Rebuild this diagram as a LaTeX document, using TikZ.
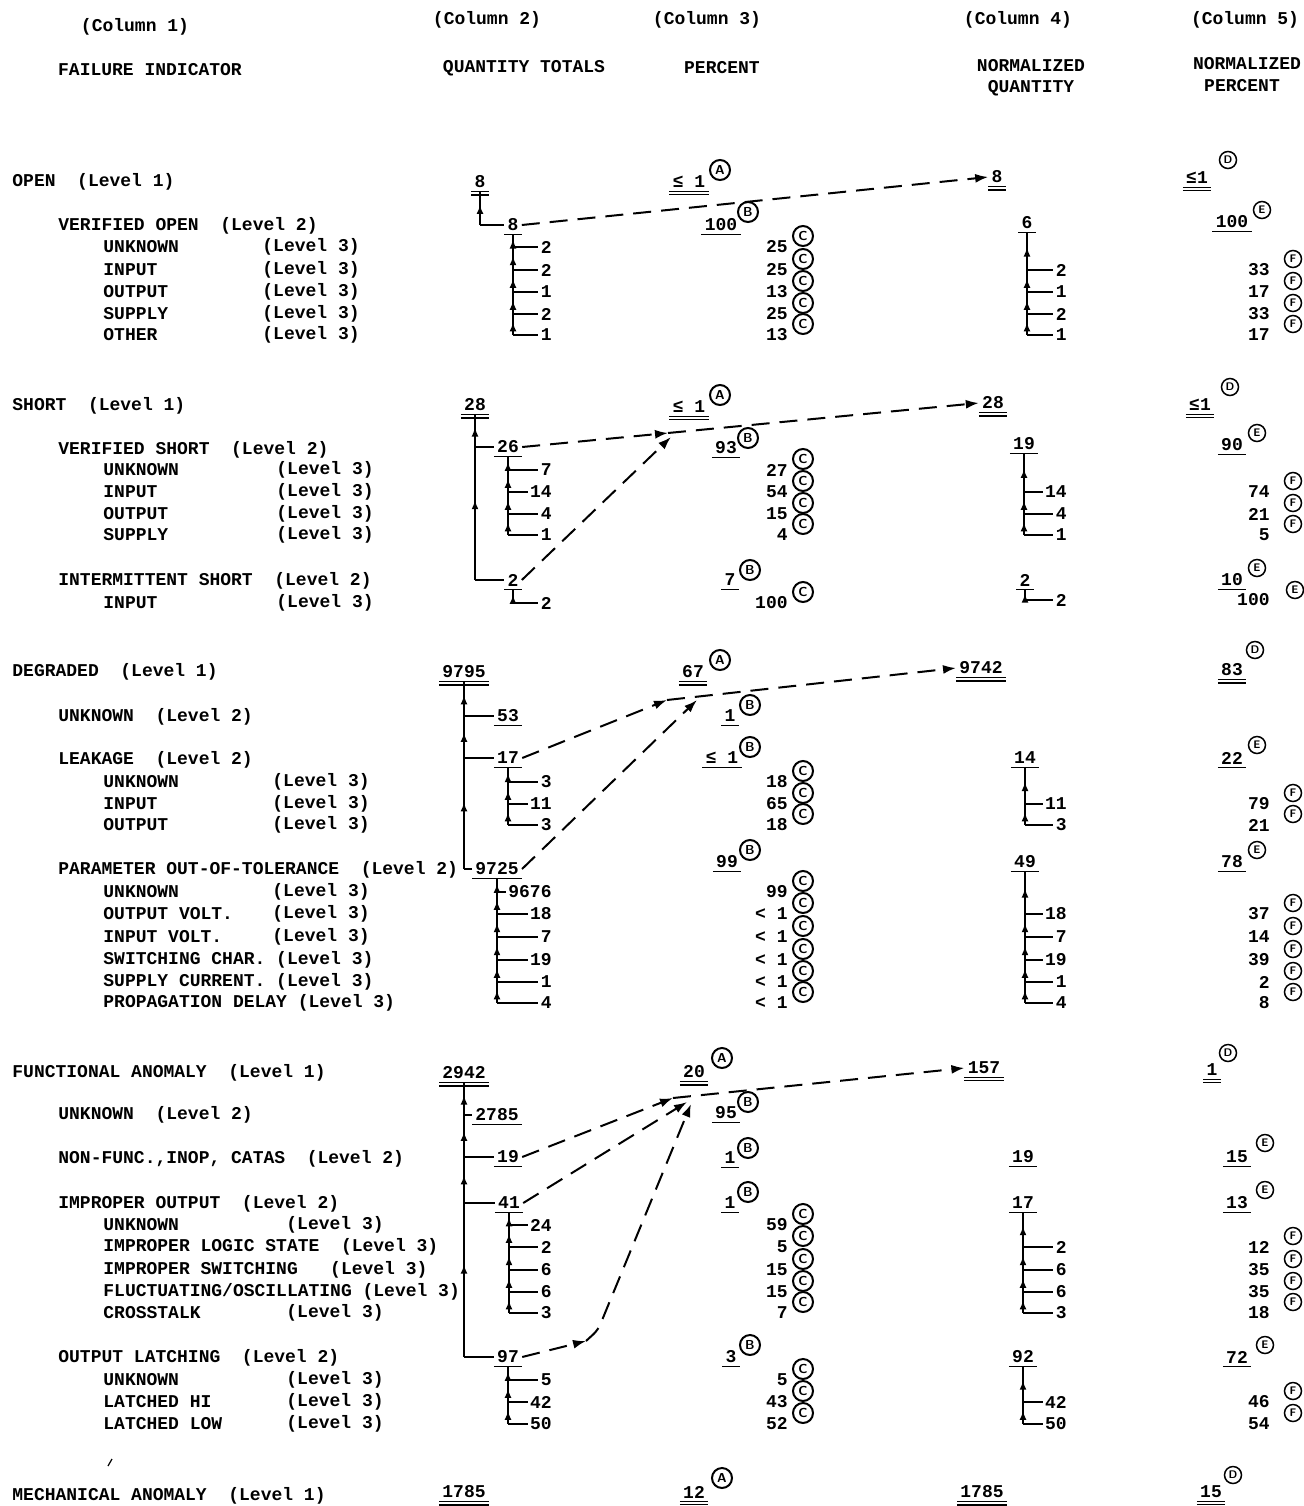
\documentclass[tikz,border=0pt]{standalone}
\usepackage{fontspec}
\newfontfamily\tw{Liberation Mono}
\usetikzlibrary{arrows.meta,decorations.markings}
\tikzset{
 txt/.style={font=\tw\bfseries\fontsize{9}{10}\selectfont,inner sep=0pt,anchor=west},
 hd/.style={font=\tw\bfseries\fontsize{9}{10}\selectfont,inner sep=0pt},
 num/.style={font=\tw\bfseries\fontsize{9}{10}\selectfont,inner xsep=1.5pt,inner ysep=1.5pt},
 kid/.style={num,anchor=east,inner xsep=1pt},
 rnum/.style={num,anchor=east,inner xsep=0pt},
 circC/.style={circle,draw,line width=1pt,inner sep=0pt,minimum size=10pt,font=\sffamily\bfseries\fontsize{6.5}{7}\selectfont},
 circF/.style={circle,draw,line width=0.75pt,inner sep=0pt,minimum size=8.5pt,font=\sffamily\bfseries\fontsize{5.5}{6}\selectfont},
 tree/.style={line width=0.9pt},
 upseg/.style={decoration={markings,mark=at position 0.6 with {\arrow{Latex[length=4.5pt,width=3.5pt]}}},postaction={decorate}},
 dconn/.style={line width=1pt,dash pattern=on 9pt off 5pt,-{Latex[length=6.5pt,width=4.5pt]}},
 uline/.style={line width=0.8pt}
}
\newcommand\ulN[1]{\draw[uline] (#1.south west) -- (#1.south east);}
\newcommand\dulN[1]{\draw[uline] (#1.south west) -- (#1.south east); \draw[uline] ([yshift=-1.6pt]#1.south west) -- ([yshift=-1.6pt]#1.south east);}
\newcommand\branch[3]{\draw[tree,upseg] (#1.south |- #3.west) -- (#1.south |- #2); \draw[tree] (#1.south |- #3.west) -- (#3.west);}
\newcommand\lrow[5]{\node[txt] (#1) at (103,#3) {#2}; \node[txt] (#1l) at (#4,#3) {(Level #5)};}
\newcommand\pcC[3]{\node[rnum] (#1) at (788,#2) {#3}; \node[circC] (#1c) at (803,{#2-11}) {C};}
\newcommand\pcF[3]{\node[rnum] (#1) at (1270,#2) {#3}; \node[circF] (#1c) at (1293,{#2-11}) {F};}
\newcommand\kidA[4]{\node[kid] (#1) at (#2,#3) {#4};}
\begin{document}
\begin{tikzpicture}[x=0.5pt,y=-0.5pt]
\useasboundingbox (0,0) rectangle (1303,1506);
% ---------------- headers
\node[hd] (h1a) at (135,27) {(Column 1)};
\node[hd] (h1b) at (150,70) {FAILURE INDICATOR};
\node[hd] (h2a) at (487,20) {(Column 2)};
\node[hd] (h2b) at (524,68) {QUANTITY TOTALS};
\node[hd] (h3a) at (707,20) {(Column 3)};
\node[hd] (h3b) at (722,68) {PERCENT};
\node[hd] (h4a) at (1018,20) {(Column 4)};
\node[hd] (h4b) at (1031,66) {NORMALIZED};
\node[hd] (h4c) at (1031,88) {QUANTITY};
\node[hd] (h5a) at (1245,20) {(Column 5)};
\node[hd] (h5b) at (1247,64) {NORMALIZED};
\node[hd] (h5c) at (1242,86) {PERCENT};
% ---------------- column 1
\node[txt] (o1) at (12,182) {OPEN\ \ (Level 1)};
\node[txt] (o2) at (58,226) {VERIFIED OPEN\ \ (Level 2)};
\lrow{o3}{UNKNOWN}{247}{262}{3}
\lrow{o4}{INPUT}{270}{262}{3}
\lrow{o5}{OUTPUT}{292}{262}{3}
\lrow{o6}{SUPPLY}{314}{262}{3}
\lrow{o7}{OTHER}{335}{262}{3}
\node[txt] (s1) at (12,406) {SHORT\ \ (Level 1)};
\node[txt] (s2) at (58,450) {VERIFIED SHORT\ \ (Level 2)};
\lrow{s3}{UNKNOWN}{470}{276}{3}
\lrow{s4}{INPUT}{492}{276}{3}
\lrow{s5}{OUTPUT}{514}{276}{3}
\lrow{s6}{SUPPLY}{535}{276}{3}
\node[txt] (s7) at (58,581) {INTERMITTENT SHORT\ \ (Level 2)};
\lrow{s8}{INPUT}{603}{276}{3}
\node[txt] (g1) at (12,672) {DEGRADED\ \ (Level 1)};
\node[txt] (g2) at (58,717) {UNKNOWN\ \ (Level 2)};
\node[txt] (g3) at (58,760) {LEAKAGE\ \ (Level 2)};
\lrow{g4}{UNKNOWN}{782}{272}{3}
\lrow{g5}{INPUT}{804}{272}{3}
\lrow{g6}{OUTPUT}{825}{272}{3}
\node[txt] (g7) at (58,870) {PARAMETER OUT-OF-TOLERANCE\ \ (Level 2)};
\lrow{g8}{UNKNOWN}{892}{272}{3}
\lrow{g9}{OUTPUT VOLT.}{914}{272}{3}
\lrow{g10}{INPUT VOLT.}{937}{272}{3}
\node[txt] (g11) at (103,960) {SWITCHING CHAR. (Level 3)};
\node[txt] (g12) at (103,982) {SUPPLY CURRENT. (Level 3)};
\node[txt] (g13) at (103,1003) {PROPAGATION DELAY (Level 3)};
\node[txt] (u1) at (12,1073) {FUNCTIONAL ANOMALY\ \ (Level 1)};
\node[txt] (u2) at (58,1115) {UNKNOWN\ \ (Level 2)};
\node[txt] (u3) at (58,1159) {NON-FUNC.,INOP, CATAS\ \ (Level 2)};
\node[txt] (u4) at (58,1204) {IMPROPER OUTPUT\ \ (Level 2)};
\lrow{u5}{UNKNOWN}{1225}{286}{3}
\node[txt] (u6) at (103,1247) {IMPROPER LOGIC STATE\ \ (Level 3)};
\node[txt] (u7) at (103,1270) {IMPROPER SWITCHING\ \ \ (Level 3)};
\node[txt] (u8) at (103,1292) {FLUCTUATING/OSCILLATING (Level 3)};
\lrow{u9}{CROSSTALK}{1313}{286}{3}
\node[txt] (u10) at (58,1358) {OUTPUT LATCHING\ \ (Level 2)};
\lrow{u11}{UNKNOWN}{1380}{286}{3}
\lrow{u12}{LATCHED HI}{1402}{286}{3}
\lrow{u13}{LATCHED LOW}{1424}{286}{3}
\draw[line width=0.6pt] (108,1466) -- (112,1459);
\node[txt] (m1) at (12,1496) {MECHANICAL ANOMALY\ \ (Level 1)};
% ---------------- column 2
% OPEN
\node[num] (a1) at (480,182) {8}; \dulN{a1}
\node[num] (a2) at (513,225) {8}; \ulN{a2}
\branch{a1}{a1.south}{a2}
\kidA{a21}{554}{247}{2} \kidA{a22}{554}{270}{2} \kidA{a23}{554}{292}{1}
\kidA{a24}{554}{314}{2} \kidA{a25}{554}{335}{1}
\branch{a2}{a2.south}{a21} \branch{a2}{a21.west}{a22} \branch{a2}{a22.west}{a23}
\branch{a2}{a23.west}{a24} \branch{a2}{a24.west}{a25}
% SHORT
\node[num] (b1) at (475,405) {28}; \dulN{b1}
\node[num] (b2) at (508,447) {26}; \ulN{b2}
\node[num] (b3) at (513,580) {2}; \ulN{b3}
\branch{b1}{b1.south}{b2} \branch{b1}{b2.west}{b3}
\kidA{b21}{554}{470}{7} \kidA{b22}{554}{492}{14} \kidA{b23}{554}{514}{4} \kidA{b24}{554}{535}{1}
\branch{b2}{b2.south}{b21} \branch{b2}{b21.west}{b22} \branch{b2}{b22.west}{b23} \branch{b2}{b23.west}{b24}
\kidA{b31}{554}{603}{2}
\branch{b3}{b3.south}{b31}
% DEGRADED
\node[num] (c1) at (464,672) {9795}; \dulN{c1}
\node[num] (c2) at (508,716) {53}; \ulN{c2}
\node[num] (c3) at (508,758) {17}; \ulN{c3}
\node[num] (c4) at (497,869) {9725}; \ulN{c4}
\branch{c1}{c1.south}{c2} \branch{c1}{c2.west}{c3} \branch{c1}{c3.west}{c4}
\kidA{c31}{554}{782}{3} \kidA{c32}{554}{804}{11} \kidA{c33}{554}{825}{3}
\branch{c3}{c3.south}{c31} \branch{c3}{c31.west}{c32} \branch{c3}{c32.west}{c33}
\kidA{c41}{554}{892}{9676} \kidA{c42}{554}{914}{18} \kidA{c43}{554}{937}{7}
\kidA{c44}{554}{960}{19} \kidA{c45}{554}{982}{1} \kidA{c46}{554}{1003}{4}
\branch{c4}{c4.south}{c41} \branch{c4}{c41.west}{c42} \branch{c4}{c42.west}{c43}
\branch{c4}{c43.west}{c44} \branch{c4}{c44.west}{c45} \branch{c4}{c45.west}{c46}
% FUNCTIONAL
\node[num] (e1) at (464,1073) {2942}; \dulN{e1}
\node[num] (e2) at (497,1115) {2785}; \ulN{e2}
\node[num] (e3) at (508,1157) {19}; \ulN{e3}
\node[num] (e4) at (509,1203) {41}; \ulN{e4}
\node[num] (e5) at (508,1357) {97}; \ulN{e5}
\branch{e1}{e1.south}{e2} \branch{e1}{e2.west}{e3} \branch{e1}{e3.west}{e4} \branch{e1}{e4.west}{e5}
\kidA{e41}{554}{1225}{24} \kidA{e42}{554}{1247}{2} \kidA{e43}{554}{1270}{6}
\kidA{e44}{554}{1292}{6} \kidA{e45}{554}{1313}{3}
\branch{e4}{e4.south}{e41} \branch{e4}{e41.west}{e42} \branch{e4}{e42.west}{e43}
\branch{e4}{e43.west}{e44} \branch{e4}{e44.west}{e45}
\kidA{e51}{554}{1380}{5} \kidA{e52}{554}{1402}{42} \kidA{e53}{554}{1424}{50}
\branch{e5}{e5.south}{e51} \branch{e5}{e51.west}{e52} \branch{e5}{e52.west}{e53}
% MECHANICAL
\node[num] (k1) at (464,1492) {1785}; \dulN{k1}
% ---------------- column 3
\node[num] (p1) at (689,182) {≤ 1}; \dulN{p1} \node[circC] (p1c) at (720,170) {A};
\node[num] (p2) at (721,225) {100}; \ulN{p2} \node[circC] (p2c) at (748,212) {B};
\pcC{p3}{247}{25} \pcC{p4}{270}{25} \pcC{p5}{292}{13} \pcC{p6}{314}{25} \pcC{p7}{335}{13}
\node[num] (q1) at (689,407) {≤ 1}; \dulN{q1} \node[circC] (q1c) at (720,395) {A};
\node[num] (q2) at (726,448) {93}; \ulN{q2} \node[circC] (q2c) at (748,438) {B};
\pcC{q3}{470}{27} \pcC{q4}{492}{54} \pcC{q5}{514}{15} \pcC{q6}{535}{4}
\node[num] (q7) at (730,580) {7}; \ulN{q7} \node[circC] (q7c) at (750,570) {B};
\pcC{q8}{603}{100}
\node[num] (r1) at (693,672) {67}; \dulN{r1} \node[circC] (r1c) at (720,660) {A};
\node[num] (r2) at (730,716) {1}; \ulN{r2} \node[circC] (r2c) at (750,705) {B};
\node[num] (r3) at (722,758) {≤ 1}; \ulN{r3} \node[circC] (r3c) at (750,747) {B};
\pcC{r4}{782}{18} \pcC{r5}{804}{65} \pcC{r6}{825}{18}
\node[num] (r7) at (727,862) {99}; \ulN{r7} \node[circC] (r7c) at (750,850) {B};
\pcC{r8}{892}{99} \pcC{r9}{914}{< 1} \pcC{r10}{937}{< 1} \pcC{r11}{960}{< 1}
\pcC{r12}{982}{< 1} \pcC{r13}{1003}{< 1}
\node[num] (v1) at (694,1072) {20}; \dulN{v1} \node[circC] (v1c) at (722,1058) {A};
\node[num] (v2) at (726,1113) {95}; \ulN{v2} \node[circC] (v2c) at (748,1102) {B};
\node[num] (v3) at (730,1158) {1}; \ulN{v3} \node[circC] (v3c) at (748,1148) {B};
\node[num] (v4) at (730,1203) {1}; \ulN{v4} \node[circC] (v4c) at (748,1192) {B};
\pcC{v5}{1225}{59} \pcC{v6}{1247}{5} \pcC{v7}{1270}{15} \pcC{v8}{1292}{15} \pcC{v9}{1313}{7}
\node[num] (v10) at (731,1357) {3}; \ulN{v10} \node[circC] (v10c) at (750,1345) {B};
\pcC{v11}{1380}{5} \pcC{v12}{1402}{43} \pcC{v13}{1424}{52}
\node[num] (w1) at (694,1492) {12}; \dulN{w1} \node[circC] (w1c) at (722,1478) {A};
% ---------------- column 4
\node[num] (d1) at (997,177) {8}; \dulN{d1}
\node[num] (d2) at (1027,223) {6}; \ulN{d2}
\kidA{d21}{1069}{270}{2} \kidA{d22}{1069}{292}{1} \kidA{d23}{1069}{314}{2} \kidA{d24}{1069}{335}{1}
\branch{d2}{d2.south}{d21} \branch{d2}{d21.west}{d22} \branch{d2}{d22.west}{d23} \branch{d2}{d23.west}{d24}
\node[num] (d3) at (993,403) {28}; \dulN{d3}
\node[num] (d4) at (1024,444) {19}; \ulN{d4}
\kidA{d41}{1069}{492}{14} \kidA{d42}{1069}{514}{4} \kidA{d43}{1069}{535}{1}
\branch{d4}{d4.south}{d41} \branch{d4}{d41.west}{d42} \branch{d4}{d42.west}{d43}
\node[num] (d5) at (1025,580) {2}; \ulN{d5}
\kidA{d51}{1069}{600}{2}
\branch{d5}{d5.south}{d51}
\node[num] (d6) at (981,668) {9742}; \dulN{d6}
\node[num] (d7) at (1025,758) {14}; \ulN{d7}
\kidA{d71}{1069}{804}{11} \kidA{d72}{1069}{825}{3}
\branch{d7}{d7.south}{d71} \branch{d7}{d71.west}{d72}
\node[num] (d8) at (1025,862) {49}; \ulN{d8}
\kidA{d81}{1069}{914}{18} \kidA{d82}{1069}{937}{7} \kidA{d83}{1069}{960}{19}
\kidA{d84}{1069}{982}{1} \kidA{d85}{1069}{1003}{4}
\branch{d8}{d8.south}{d81} \branch{d8}{d81.west}{d82} \branch{d8}{d82.west}{d83}
\branch{d8}{d83.west}{d84} \branch{d8}{d84.west}{d85}
\node[num] (d9) at (984,1068) {157}; \dulN{d9}
\node[num] (d10) at (1023,1157) {19}; \ulN{d10}
\node[num] (d11) at (1023,1203) {17}; \ulN{d11}
\kidA{d111}{1069}{1247}{2} \kidA{d112}{1069}{1270}{6} \kidA{d113}{1069}{1292}{6} \kidA{d114}{1069}{1313}{3}
\branch{d11}{d11.south}{d111} \branch{d11}{d111.west}{d112} \branch{d11}{d112.west}{d113} \branch{d11}{d113.west}{d114}
\node[num] (d12) at (1023,1357) {92}; \ulN{d12}
\kidA{d121}{1069}{1402}{42} \kidA{d122}{1069}{1424}{50}
\branch{d12}{d12.south}{d121} \branch{d12}{d121.west}{d122}
\node[num] (d13) at (982,1492) {1785}; \dulN{d13}
% ---------------- column 5
\node[num] (f1) at (1197,178) {≤1}; \dulN{f1} \node[circF] (f1c) at (1228,160) {D};
\node[num] (f2) at (1232,222) {100}; \ulN{f2} \node[circF] (f2c) at (1262,210) {E};
\pcF{f21}{270}{33} \pcF{f22}{292}{17} \pcF{f23}{314}{33} \pcF{f24}{335}{17}
\node[num] (f3) at (1200,405) {≤1}; \dulN{f3} \node[circF] (f3c) at (1230,387) {D};
\node[num] (f4) at (1232,445) {90}; \ulN{f4} \node[circF] (f4c) at (1257,433) {E};
\pcF{f41}{492}{74} \pcF{f42}{514}{21} \pcF{f43}{535}{5}
\node[num] (f5) at (1232,580) {10}; \ulN{f5} \node[circF] (f5c) at (1257,568) {E};
\node[rnum] (f6) at (1270,600) {100}; \node[circF] (f6c) at (1295,590) {E};
\node[num] (f7) at (1232,670) {83}; \dulN{f7} \node[circF] (f7c) at (1255,650) {D};
\node[num] (f8) at (1232,758) {22}; \ulN{f8} \node[circF] (f8c) at (1257,745) {E};
\pcF{f81}{804}{79} \pcF{f82}{825}{21}
\node[num] (f9) at (1232,862) {78}; \ulN{f9} \node[circF] (f9c) at (1257,850) {E};
\pcF{f91}{914}{37} \pcF{f92}{937}{14} \pcF{f93}{960}{39} \pcF{f94}{982}{2} \pcF{f95}{1003}{8}
\node[num] (f10) at (1212,1070) {1}; \dulN{f10} \node[circF] (f10c) at (1228,1053) {D};
\node[num] (f11) at (1237,1157) {15}; \ulN{f11} \node[circF] (f11c) at (1265,1143) {E};
\node[num] (f12) at (1237,1203) {13}; \ulN{f12} \node[circF] (f12c) at (1265,1190) {E};
\pcF{f121}{1247}{12} \pcF{f122}{1270}{35} \pcF{f123}{1292}{35} \pcF{f124}{1313}{18}
\node[num] (f13) at (1237,1357) {72}; \ulN{f13} \node[circF] (f13c) at (1265,1345) {E};
\pcF{f131}{1402}{46} \pcF{f132}{1424}{54}
\node[num] (f14) at (1211,1492) {15}; \dulN{f14} \node[circF] (f14c) at (1233,1475) {D};
% ---------------- dashed connectors
\draw[dconn] (a2.east) -- (d1.west);
\coordinate (ms1) at (668,433); \coordinate (ms2) at (671,437);
\draw[dconn] (b2.east) -- (ms1);
\draw[dconn] (b3.east) -- (ms2);
\draw[dconn] (ms1) -- (d3.west);
\coordinate (md1) at (667,700); \coordinate (md2) at (697,700);
\draw[dconn] (c3.east) -- (md1);
\draw[dconn] (c4.east) -- (md2);
\draw[dconn] (md1) -- (d6.west);
\coordinate (mf1) at (673,1098); \coordinate (mf2) at (687,1102); \coordinate (mf3) at (691,1104);
\coordinate (mfk) at (586,1341); \coordinate (mfb) at (598,1330);
\draw[dconn] (e3.east) -- (mf1);
\draw[dconn] (e4.east) -- (mf2);
\draw[dconn] (e5.east) -- (mfk);
\draw[dconn,rounded corners=3pt] (mfk) -- (mfb) -- (mf3);
\draw[dconn] (mf1) -- (d9.west);
\end{tikzpicture}
\end{document}
